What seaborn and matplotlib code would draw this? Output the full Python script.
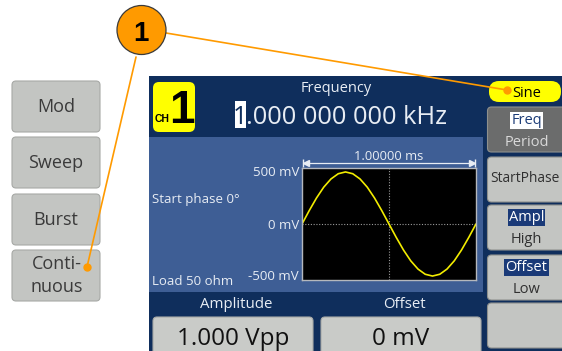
import matplotlib
matplotlib.use("Agg")
import matplotlib.pyplot as plt
from matplotlib.patches import FancyBboxPatch, Rectangle, Circle
import seaborn as sns
import pandas as pd

# ---------- waveform (one period, start phase 0) ----------
phase_deg = [0, 15, 30, 45, 60, 75, 90, 105, 120, 135, 150, 165, 180,
             195, 210, 225, 240, 255, 270, 285, 300, 315, 330, 345, 360]
level_mv = [0, 129, 250, 354, 433, 483, 500, 483, 433, 354, 250, 129, 0,
            -129, -250, -354, -433, -483, -500, -483, -433, -354, -250, -129, 0]
period_ms = 1.0

# ---------- screen texts ----------
left_buttons = ["Mod", "Sweep", "Burst", "Conti-\nnuous"]
freq_label = "Frequency"
freq_value = "1.000 000 000 kHz"
wave_name = "Sine"
y_ticks = ["500 mV", "0 mV", "-500 mV"]
time_label = "1.00000 ms"
info_lines = ["Start phase 0\u00b0", "Load 50 ohm"]
bottom_labels = ["Amplitude", "Offset"]
bottom_values = ["1.000 Vpp", "0 mV"]
side_menu = [("Freq", "Period"), ("StartPhase", None), ("Ampl", "High"), ("Offset", "Low"), (None, None)]

NAVY = "#0f2e5c"
PANEL = "#3e5e95"
BTN = "#c3c5c2"
BTN_EDGE = "#a7a9a6"
DARK_BTN = "#6b6c6c"
TXT_ON_BLUE = "#e8edf4"
ORANGE = "#ff9a00"
YELLOW = "#ffff00"

sns.set_style("white")
plt.rcParams["font.family"] = ["Open Sans", "DejaVu Sans"]

fig = plt.figure(figsize=(5.62, 3.51), dpi=100)
ax = fig.add_axes([0, 0, 1, 1])
ax.set_xlim(0, 562)
ax.set_ylim(351, 0)
ax.axis("off")


def rbox(x, y, w, h, fc, ec="none", r=4, z=1):
    ax.add_patch(FancyBboxPatch((x, y), w, h, boxstyle=f"round,pad=0,rounding_size={r}",
                                fc=fc, ec=ec, lw=0.8, zorder=z))


# ---------- left key column ----------
btn_tops = [81, 137, 194, 250]
for top, label in zip(btn_tops, left_buttons):
    rbox(12, top, 88, 51, BTN, BTN_EDGE)
    if "\n" in label:
        a, b = label.split("\n")
        ax.text(57, 269, a, ha="center", va="baseline", fontsize=13, color="#3a3a3a", zorder=3)
        ax.text(56.5, 292, b, ha="center", va="baseline", fontsize=13, color="#3a3a3a", zorder=3)
    else:
        ax.text(56, top + 31, label, ha="center", va="baseline", fontsize=13, color="#3a3a3a", zorder=3)

# ---------- main screen ----------
ax.add_patch(Rectangle((149, 76), 420, 280, fc=NAVY, ec="none", zorder=1))
ax.add_patch(Rectangle((149, 137), 334, 155, fc=PANEL, ec="none", zorder=2))

# channel badge
rbox(153, 82, 42, 50, YELLOW, r=6, z=3)
ax.text(154.5, 122, "CH", ha="left", va="baseline", fontsize=7.5, fontweight="bold",
        family=["Liberation Sans Narrow", "Liberation Sans"], color="black", zorder=4)
ax.text(182, 123, "1", ha="center", va="baseline", fontsize=33, fontweight="bold",
        family=["Liberation Sans Narrow", "Liberation Sans"], color="black", zorder=4)

# frequency readout with cursor on first digit
ax.text(336, 92, freq_label, ha="center", va="baseline", fontsize=10.5, color=TXT_ON_BLUE, zorder=3)
ax.add_patch(Rectangle((235, 101), 10.5, 27, fc="white", ec="none", zorder=3))
ax.text(240.2, 124, freq_value[0], ha="center", va="baseline", fontsize=18.3, color=NAVY, zorder=4)
ax.text(246, 124, freq_value[1:], ha="left", va="baseline", fontsize=18.3, color=TXT_ON_BLUE, zorder=4)

# info texts and y labels
ax.text(152, 203, info_lines[0], ha="left", va="baseline", fontsize=9.5, color=TXT_ON_BLUE, zorder=3)
ax.text(152, 285, info_lines[1], ha="left", va="baseline", fontsize=9.5, color=TXT_ON_BLUE, zorder=3)
for lab, base in zip(y_ticks, [176, 229, 280]):
    ax.text(299, base, lab, ha="right", va="baseline", fontsize=9.5, color=TXT_ON_BLUE, zorder=3)

# time span marker
ax.text(389, 160, time_label, ha="center", va="baseline", fontsize=9.3, color=TXT_ON_BLUE, zorder=3)
ax.plot([303, 475], [163, 163], color=TXT_ON_BLUE, lw=0.9, zorder=3)
ax.plot([306], [163], marker="<", ms=4, color=TXT_ON_BLUE, zorder=3)
ax.plot([472], [163], marker=">", ms=4, color=TXT_ON_BLUE, zorder=3)
ax.plot([303, 475], [163, 163], ls="none", marker="|", ms=6, mew=1, color=TXT_ON_BLUE, zorder=3)

# bottom labels and value boxes
for lab, cx in zip(bottom_labels, [236, 404]):
    ax.text(cx, 308, lab, ha="center", va="baseline", fontsize=10.8, color=TXT_ON_BLUE, zorder=3)
for val, bx in zip(bottom_values, [153, 321]):
    rbox(bx, 317, 160, 45, "#c9cbc8", BTN_EDGE, r=4, z=3)
    ax.text(bx + 80, 345, val, ha="center", va="baseline", fontsize=17.5, color="#111111", zorder=4)

# ---------- right soft-key column ----------
rbox(489, 81, 72, 21, YELLOW, r=10, z=3)
ax.text(527, 97, wave_name, ha="center", va="baseline", fontsize=10.5, color="black", zorder=4)

key_tops = [107, 157, 205, 255, 303]
for i, (top, (a, b)) in enumerate(zip(key_tops, side_menu)):
    fc = DARK_BTN if i == 0 else BTN
    rbox(487.5, top, 80, 45, fc, "#8e908d", r=4, z=3)
    if a is None:
        continue
    if b is None:
        ax.text(524.5, top + 25, a, ha="center", va="baseline", fontsize=9.9, color="#303030", zorder=4)
        continue
    if i == 0:
        ax.text(526.5, top + 17, a, ha="center", va="baseline", fontsize=10.5, color="#1d3d78", zorder=4,
                bbox=dict(boxstyle="square,pad=0.08", fc="white", ec="none"))
        ax.text(526.5, top + 39, b, ha="center", va="baseline", fontsize=10.5, color="#d9d9d9", zorder=4)
    else:
        ax.text(526.5, top + 16, a, ha="center", va="baseline", fontsize=10.5, color="white", zorder=4,
                bbox=dict(boxstyle="square,pad=0.08", fc="#1a3a78", ec="none"))
        ax.text(526.5, top + 38, b, ha="center", va="baseline", fontsize=10.5, color="#303030", zorder=4)

# ---------- scope window ----------
wave = pd.DataFrame({"t_ms": [p / 360 * period_ms for p in phase_deg], "mV": level_mv})
sc = fig.add_axes([302 / 562, 1 - 280 / 351, 174 / 562, 112 / 351])
sc.set_facecolor("black")
sc.axhline(0, color="#9a9a9a", lw=0.8, ls=(0, (1, 1.5)), zorder=1)
sc.axvline(period_ms / 2, color="#9a9a9a", lw=0.8, ls=(0, (1, 1.5)), zorder=1)
sns.lineplot(data=wave, x="t_ms", y="mV", ax=sc, color="#f2ec00", lw=1.2, zorder=2)
sc.set_xlim(0, period_ms)
sc.set_ylim(-538, 538)
sc.set_xticks([])
sc.set_yticks([])
sc.set_xlabel("")
sc.set_ylabel("")
for s in sc.spines.values():
    s.set_color("#b5b8bd")
    s.set_linewidth(1)

# ---------- callout ----------
ax.plot([166, 507], [33, 90], color=ORANGE, lw=1.2, zorder=6)
ax.plot([136, 87], [57, 267], color=ORANGE, lw=1.2, zorder=6)
ax.plot([507, 87], [90, 267], ls="none", marker="o", ms=5, color=ORANGE, zorder=7)
ax.add_patch(Circle((141.5, 30), 24.5, fc=ORANGE, ec="#3a3a3a", lw=0.9, zorder=8))
ax.text(141, 41, "1", ha="center", va="baseline", fontsize=20, fontweight="bold",
        family="Liberation Sans", color="black", zorder=9)

fig.savefig("out.png", dpi=100)
